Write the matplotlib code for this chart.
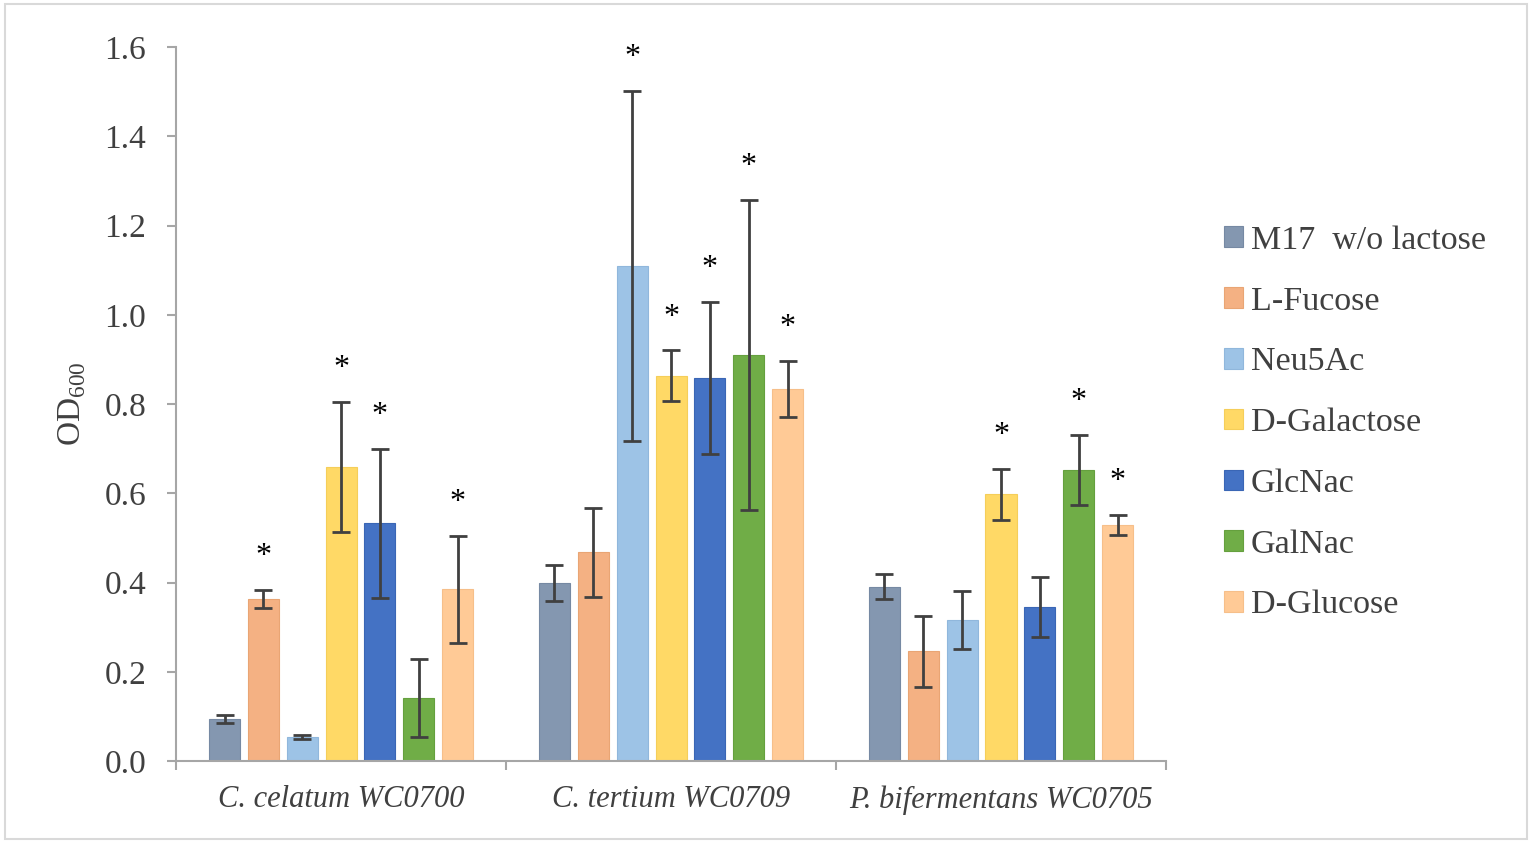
import numpy as np
import matplotlib
matplotlib.use("Agg")
import matplotlib.pyplot as plt
from matplotlib.patches import Rectangle
from matplotlib import rcParams

rcParams['font.family'] = ['Liberation Serif', 'DejaVu Serif']
rcParams['mathtext.fontset'] = 'custom'
rcParams['mathtext.rm'] = 'Liberation Serif'

# 数据
strains = ['C. celatum WC0700', 'C. tertium WC0709', 'P. bifermentans WC0705']
sugars = ['M17  w/o lactose', 'L-Fucose', 'Neu5Ac', 'D-Galactose', 'GlcNac', 'GalNac', 'D-Glucose']
colors = ['#8497B0', '#F4B183', '#9DC3E6', '#FFD966', '#4472C4', '#70AD47', '#FFCA96']
edges = ['#7689A3', '#E9A574', '#90B7DC', '#F5CE5A', '#3A66B5', '#65A03E', '#F6BF8A']

means = {
    'M17  w/o lactose': [0.094, 0.399, 0.390],
    'L-Fucose':         [0.363, 0.468, 0.246],
    'Neu5Ac':           [0.054, 1.109, 0.316],
    'D-Galactose':      [0.659, 0.863, 0.598],
    'GlcNac':           [0.533, 0.858, 0.345],
    'GalNac':           [0.141, 0.910, 0.652],
    'D-Glucose':        [0.385, 0.834, 0.529],
}
errors = {
    'M17  w/o lactose': [0.009, 0.040, 0.028],
    'L-Fucose':         [0.021, 0.100, 0.080],
    'Neu5Ac':           [0.004, 0.392, 0.064],
    'D-Galactose':      [0.145, 0.057, 0.057],
    'GlcNac':           [0.167, 0.170, 0.068],
    'GalNac':           [0.087, 0.348, 0.078],
    'D-Glucose':        [0.120, 0.062, 0.022],
}
# 显著性标记
stars = {
    'M17  w/o lactose': [False, False, False],
    'L-Fucose':         [True, False, False],
    'Neu5Ac':           [False, True, False],
    'D-Galactose':      [True, True, True],
    'GlcNac':           [True, True, False],
    'GalNac':           [False, True, True],
    'D-Glucose':        [True, True, True],
}

fig = plt.figure(figsize=(15.32, 8.44), dpi=100)
ax = fig.add_axes([0.1149, 0.0983, 0.6462, 0.846])

x = np.arange(len(strains))
pitch = 0.1177
width = 0.094
text_color = '#404040'
axis_color = '#A6A6A6'

for i, s in enumerate(sugars):
    pos = x + (i - 3) * pitch
    ax.bar(pos, means[s], width=width, color=colors[i], edgecolor=edges[i],
           linewidth=0.8, label=s, zorder=2)
    ax.errorbar(pos, means[s], yerr=errors[s], fmt='none', ecolor='#404040',
                elinewidth=2.0, capsize=6.5, capthick=2.0, zorder=3)
    for j in range(len(strains)):
        if stars[s][j]:
            ax.text(pos[j], means[s][j] + errors[s][j] + 0.058, '*',
                    ha='center', va='baseline', fontsize=23, color='black')

ax.set_xlim(-0.5, 2.5)
ax.set_ylim(0, 1.6)
ax.set_yticks(np.arange(0, 1.61, 0.2))
ax.set_yticklabels([f'{v:.1f}' for v in np.arange(0, 1.61, 0.2)])
ax.set_xticks(x)
ax.set_xticklabels(strains, style='italic', fontsize=22, color=text_color)
ax.set_xticks([-0.5, 0.5, 1.5, 2.5], minor=True)
ax.tick_params(axis='x', which='major', length=0, pad=17.5)
ax.tick_params(axis='x', which='minor', length=6.5, width=1.5, color=axis_color, direction='out')
ax.tick_params(axis='y', length=6.5, width=1.5, color=axis_color, labelsize=24,
               labelcolor=text_color, pad=15)

for side in ['top', 'right']:
    ax.spines[side].set_visible(False)
for side in ['left', 'bottom']:
    ax.spines[side].set_color(axis_color)
    ax.spines[side].set_linewidth(1.5)

ax.set_ylabel(r'OD$_{\mathrm{600}}$', fontsize=24, color=text_color, labelpad=12)

leg = ax.legend(loc='center left', bbox_to_anchor=(0.790, 0.499),
                bbox_transform=fig.transFigure, frameon=False, fontsize=24.5,
                handlelength=0.55, handleheight=0.55, handletextpad=0.25,
                labelspacing=0.89, borderaxespad=0)
for t in leg.get_texts():
    t.set_color(text_color)

# 外框
fig.patches.append(Rectangle((0.003, 0.006), 0.994, 0.989, transform=fig.transFigure,
                             fill=False, edgecolor='#D9D9D9', linewidth=1.5))

fig.savefig('out.png', dpi=100)
